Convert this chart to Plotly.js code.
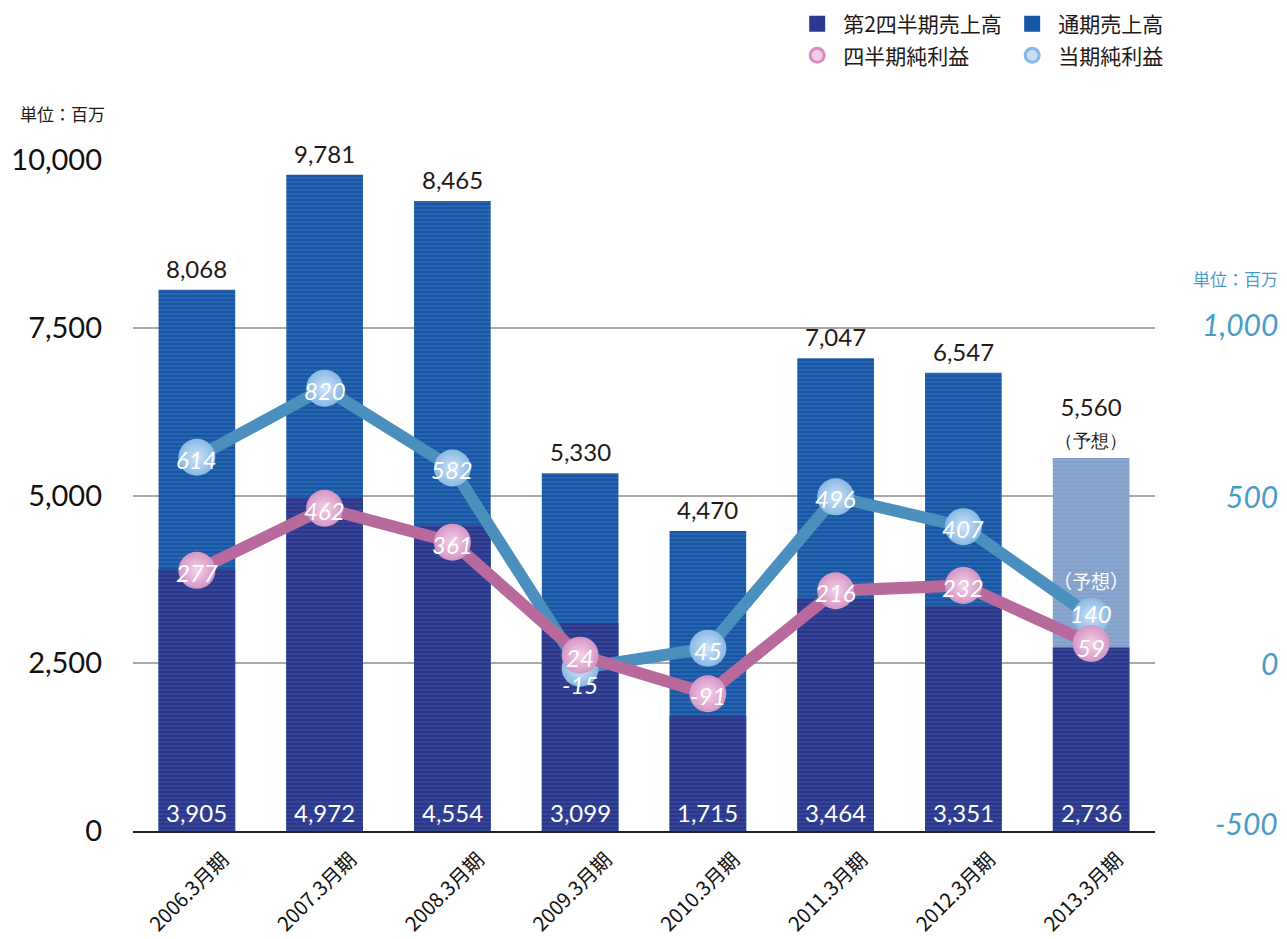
<!DOCTYPE html>
<html><head><meta charset="utf-8">
<script src="https://cdn.plot.ly/plotly-3.0.1.min.js"></script>
<style>html,body{margin:0;padding:0;background:#fff}#chart{width:1287px;height:939px}</style>
</head><body><div id="chart"></div>
<script>
// ---- data ----
const categories = ['2006.3月期','2007.3月期','2008.3月期','2009.3月期','2010.3月期','2011.3月期','2012.3月期','2013.3月期'];
const q2Sales = [3905, 4972, 4554, 3099, 1715, 3464, 3351, 2736];            // 第2四半期売上高
const fullYearSales = [8068, 9781, 8465, 5330, 4470, 7047, 6547, 5560];      // 通期売上高 (printed labels)
const fullYearBarHeights = [8068, 9781, 9390, 5330, 4470, 7047, 6830, 5560]; // 通期売上高 bar heights as drawn
const q2Profit = [277, 462, 361, 24, -91, 216, 232, 59];                     // 四半期純利益
const fullYearProfit = [614, 820, 582, -15, 45, 496, 407, 140];              // 当期純利益
const forecastFlags = [false, false, false, false, false, false, false, true];
const leftTicks = [0, 2500, 5000, 7500, 10000];
const rightTicks = [-500, 0, 500, 1000];

const NUM_FONT = 'Lato, "Open Sans", sans-serif';
const JP_FONT = '"Noto Sans CJK JP", sans-serif';
const fmt = v => v.toLocaleString('en-US');

const fullColors = forecastFlags.map(f => f ? '#89a8d1' : '#1656a6');

const traces = [
  { type:'bar', x:categories, y:fullYearBarHeights, width:0.6, showlegend:false, hoverinfo:'skip',
    marker:{ color:fullColors, line:{width:0},
      pattern:{ shape:'-', fillmode:'overlay', fgcolor:'#ffffff', fgopacity:0.10, size:4, solidity:0.4 } } },
  { type:'bar', x:categories, y:q2Sales, width:0.6, showlegend:false, hoverinfo:'skip',
    marker:{ color:'#29388c', line:{width:0},
      pattern:{ shape:'-', fillmode:'overlay', fgcolor:'#ffffff', fgopacity:0.07, size:4, solidity:0.4 } } },
  { type:'scatter', mode:'lines+markers', x:categories, y:fullYearProfit, yaxis:'y2', showlegend:false, hoverinfo:'skip',
    line:{ color:'#4a8fbe', width:12 },
    marker:{ size:37, color:'#8ab8e2', gradient:{ type:'radial', color:'#cde5fa' } }, cliponaxis:false },
  { type:'scatter', mode:'lines+markers', x:categories, y:q2Profit, yaxis:'y2', showlegend:false, hoverinfo:'skip',
    line:{ color:'#b96a9d', width:12 },
    marker:{ size:37, color:'#d495c3', gradient:{ type:'radial', color:'#f6d3ea' } }, cliponaxis:false },
  // legend entries
  { type:'scatter', mode:'markers', x:[null], y:[null], name:'第2四半期売上高', legend:'legend',
    marker:{ symbol:'square', size:16, color:'#2b3a8e' } },
  { type:'scatter', mode:'markers', x:[null], y:[null], name:'通期売上高', legend:'legend',
    marker:{ symbol:'square', size:16, color:'#1656a6' } },
  { type:'scatter', mode:'markers', x:[null], y:[null], name:'四半期純利益', legend:'legend2',
    marker:{ symbol:'circle', size:14, color:'#f4cbe6', line:{ color:'#d08fbd', width:3 } } },
  { type:'scatter', mode:'markers', x:[null], y:[null], name:'当期純利益', legend:'legend2',
    marker:{ symbol:'circle', size:14, color:'#c3e0f8', line:{ color:'#89b6e3', width:3 } } }
];

const annotations = [];
// labels above full-year bars
categories.forEach((c, i) => {
  let t = fmt(fullYearSales[i]);
  if (forecastFlags[i]) t += '<br><span style="font-size:18px">（予想）</span>';
  annotations.push({ x:c, y:fullYearBarHeights[i], xref:'x', yref:'y', text:t, showarrow:false,
    yanchor:'bottom', yshift:5, font:{ family:NUM_FONT, size:24, color:'#231815' } });
});
// labels at base of quarterly bars
categories.forEach((c, i) => {
  annotations.push({ x:c, y:0, xref:'x', yref:'y', text:fmt(q2Sales[i]), showarrow:false,
    yanchor:'bottom', yshift:2, font:{ family:NUM_FONT, size:24, color:'#ffffff' } });
});
// labels on line markers
categories.forEach((c, i) => {
  annotations.push({ x:c, y:fullYearProfit[i], xref:'x', yref:'y2', text:'<i>' + fmt(fullYearProfit[i]) + '</i>',
    showarrow:false, yshift: fullYearProfit[i] < 0 ? -16 : (forecastFlags[i] ? 3 : -2),
    font:{ family:NUM_FONT, size:24, color:'#ffffff' } });
  if (forecastFlags[i]) {
    annotations.push({ x:c, y:fullYearProfit[i], xref:'x', yref:'y2', text:'（予想）', showarrow:false,
      yshift:36, font:{ family:JP_FONT, size:19, color:'#ffffff' } });
  }
  annotations.push({ x:c, y:q2Profit[i], xref:'x', yref:'y2', text:'<i>' + fmt(q2Profit[i]) + '</i>',
    showarrow:false, yshift: forecastFlags[i] ? -4 : -2, font:{ family:NUM_FONT, size:24, color:'#ffffff' } });
});
// right axis tick labels
rightTicks.forEach(v => {
  annotations.push({ x:1.1223, y:v, xref:'paper', yref:'y2', xanchor:'right', yanchor:'middle',
    text:'<i>' + fmt(v) + '</i>', showarrow:false, yshift: v === -500 ? 8 : (v === 1000 ? 4 : 0),
    font:{ family:NUM_FONT, size:30, color:'#4a9bc8' } });
});
// unit labels
annotations.push({ x:-0.1125, y:1.07, xref:'paper', yref:'paper', xanchor:'left', yanchor:'middle',
  text:'単位：百万', showarrow:false, font:{ family:JP_FONT, size:17, color:'#231815' } });
annotations.push({ x:1.1223, y:0.824, xref:'paper', yref:'paper', xanchor:'right', yanchor:'middle',
  text:'単位：百万', showarrow:false, font:{ family:JP_FONT, size:17, color:'#4a9bc8' } });

const legendBase = { orientation:'h', xanchor:'left', yanchor:'top', entrywidth:158, entrywidthmode:'pixels',
  itemwidth:42, font:{ family:JP_FONT, size:21, color:'#231815' }, bgcolor:'rgba(0,0,0,0)',
  itemclick:false, itemdoubleclick:false };

const layout = {
  width:1287, height:939,
  margin:{ l:133, r:132, t:160, b:108, autoexpand:false },
  paper_bgcolor:'#ffffff', plot_bgcolor:'#ffffff',
  barmode:'overlay', bargap:0.4,
  showlegend:true,
  legend: Object.assign({}, legendBase, { x:0.644, y:1.233 }),
  legend2: Object.assign({}, legendBase, { x:0.644, y:1.186 }),
  xaxis:{ type:'category', range:[-0.5, 7.5], tickangle:-45, ticks:'', showline:true, linecolor:'#222', linewidth:2,
    tickfont:{ family:JP_FONT, size:20, color:'#111' }, ticklabelshift:26, ticklabelstandoff:7,
    showgrid:false, zeroline:false, fixedrange:true, automargin:false },
  yaxis:{ range:[0, 10000], tickvals:leftTicks, ticktext:leftTicks.map(fmt), showgrid:true,
    gridcolor:'#a9a9a9', gridwidth:2, zeroline:false, ticks:'', ticklabelstandoff:30,
    tickfont:{ family:NUM_FONT, size:29, color:'#111' }, fixedrange:true, automargin:false },
  yaxis2:{ overlaying:'y', side:'right', range:[-500, 1500], showgrid:false, zeroline:false,
    showticklabels:false, ticks:'', fixedrange:true, automargin:false },
  annotations: annotations
};

Plotly.newPlot('chart', traces, layout, { displayModeBar:false, staticPlot:true });
</script></body></html>
